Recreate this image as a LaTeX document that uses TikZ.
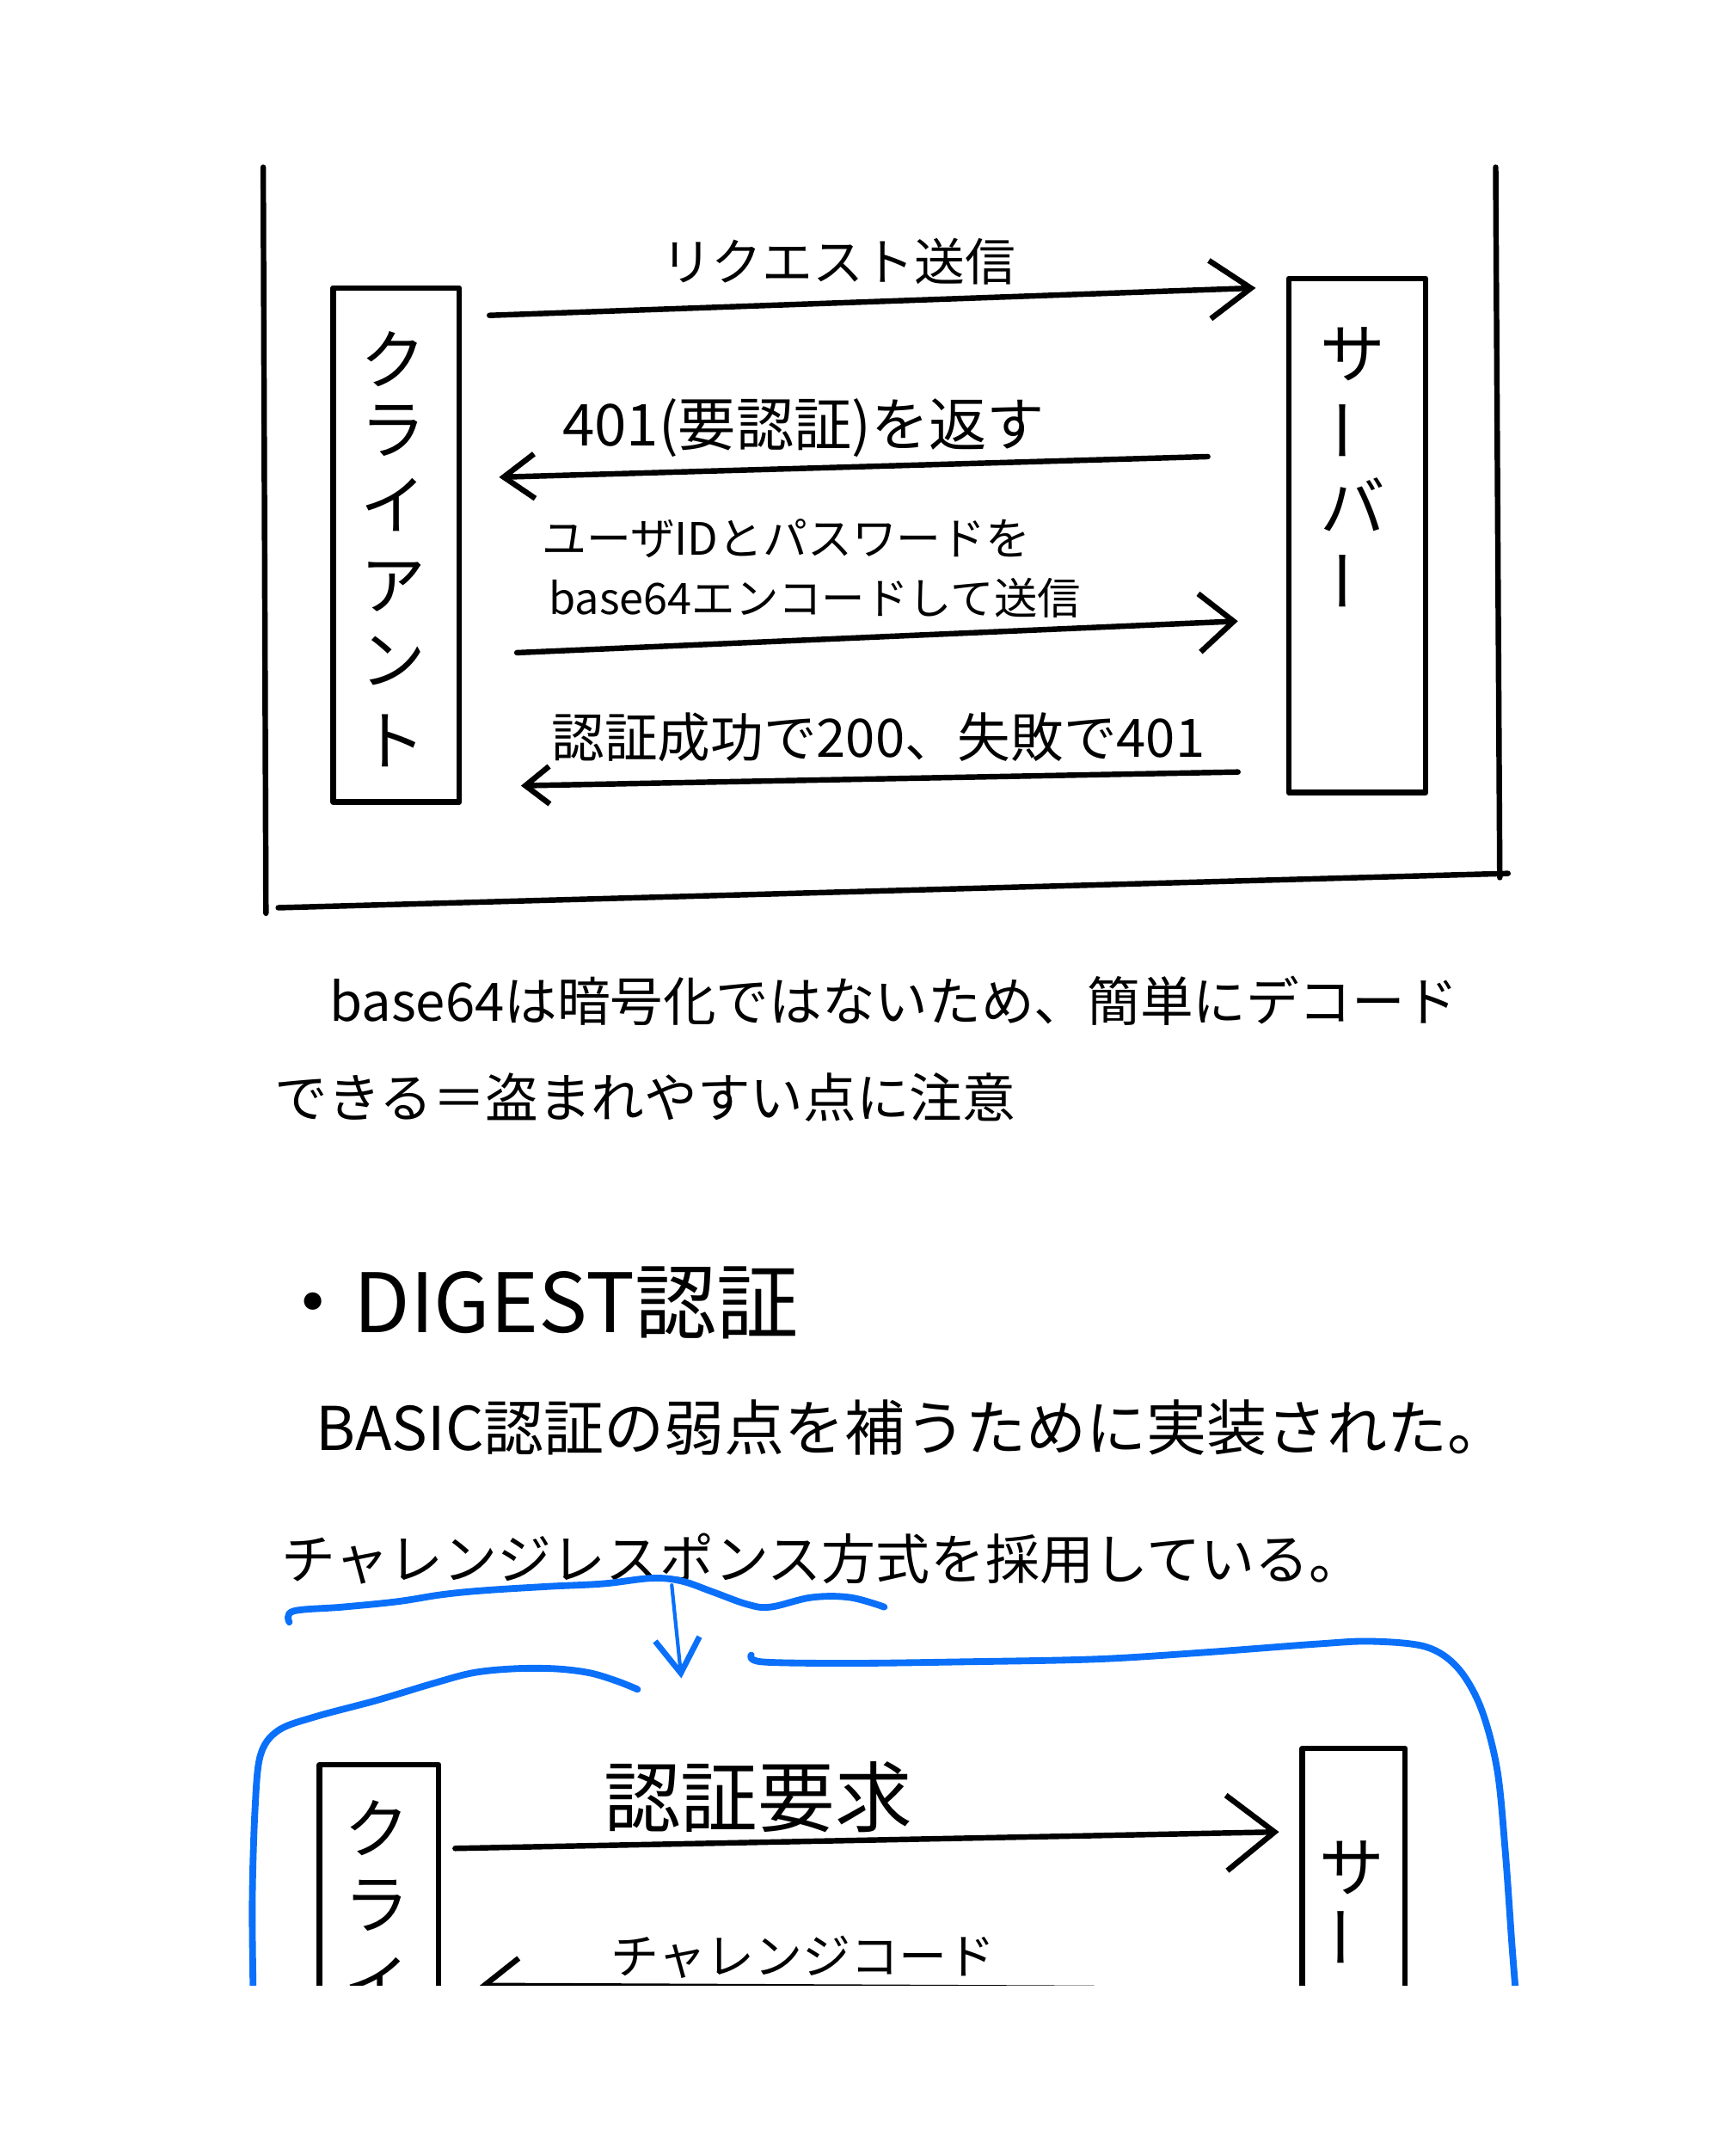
\documentclass[tikz,border=0pt]{standalone}
\usepackage{fontspec}
\setmainfont{Noto Sans CJK JP}
\usetikzlibrary{arrows.meta,calc}
\definecolor{inkblue}{RGB}{10,112,250}
\tikzset{
  ink/.style={draw=black, line width=2.3pt, line cap=round, line join=round},
  blueink/.style={draw=inkblue, line width=2.8pt, line cap=round, line join=round},
  box/.style={ink, inner sep=0pt, fill=none},
  lbl/.style={inner sep=0pt, anchor=base west},
  vchar/.style={inner sep=0pt, font=\fontsize{27}{30}\selectfont},
  para/.style={inner sep=0pt, anchor=base west},
}
\begin{document}
\begin{tikzpicture}[x=0.02cm,y=-0.02cm]
\useasboundingbox (0,0) rectangle (1266,1568);
\fill[white] (0,0) rectangle (1266,1568);

% ---------- top frame (open at the top) ----------
\draw[ink] (192,122) -- (194,666);
\draw[ink] (1091,122) -- (1094,640);
\draw[ink] (203,662) -- (1100,637);

% ---------- boxes ----------
\node[box, minimum width=1.84cm, minimum height=7.5cm] (client) at (289,397.5) {};
\node[box, minimum width=2cm, minimum height=7.5cm] (server) at (990,390.5) {};

% vertical labels
\node[vchar] (cl1) at (287,262) {ク};
\node[vchar] (cl2) at (287,314) {ラ};
\node[vchar] (cl3) at (287,368) {イ};
\node[vchar] (cl4) at (287,428) {ア};
\node[vchar] (cl5) at (287,482) {ン};
\node[vchar] (cl6) at (287,540) {ト};
\node[vchar] (sv1) at (987,258) {サ};
\node[vchar, rotate=90] (sv2) at (987,314) {ー};
\node[vchar] (sv3) at (987,368) {バ};
\node[vchar, rotate=90] (sv4) at (987,424) {ー};

% ---------- arrows ----------
\draw[ink, -{Straight Barb[length=0.6cm,width=0.85cm]}]
  ($(client.north east)+(20,22)$) -- ($(server.north west)+(-22,9)$);
\node[lbl, font=\fontsize{21}{24}\selectfont] (t1) at (482,205) {リクエスト送信};

\draw[ink, -{Straight Barb[length=0.45cm,width=0.65cm]}]
  ($(server.north west)+(-57,132)$) -- ($(client.north east)+(27,140)$);
\node[lbl, font=\fontsize{24}{28}\selectfont] (t2) at (410,325) {401(要認証)を返す};

\draw[ink, -{Straight Barb[length=0.5cm,width=0.85cm]}]
  ($(client.north east)+(40,268)$) -- ($(server.north west)+(-35,252)$);
\node[lbl, font=\fontsize{18.5}{22}\selectfont] (t3a) at (395,405) {ユーザIDとパスワードを};
\node[lbl, font=\fontsize{18}{22}\selectfont] (t3b) at (400,448) {base64エンコードして送信};

\draw[ink, -{Straight Barb[length=0.35cm,width=0.55cm]}]
  ($(server.north west)+(-35,362)$) -- ($(client.north east)+(43,365)$);
\node[lbl, font=\fontsize{22}{26}\selectfont] (t4) at (402,552) {認証成功で200、失敗で401};

% ---------- paragraph ----------
\node[para, font=\fontsize{22}{26}\selectfont] (p1) at (240,745) {base64は暗号化ではないため、簡単にデコード};
\node[para, font=\fontsize{22}{26}\selectfont] (p2) at (200,815) {できる＝盗まれやすい点に注意};

\node[para, font=\fontsize{34}{40}\selectfont] (h1) at (198,972) {・DIGEST認証};
\node[para, font=\fontsize{25}{30}\selectfont] (p3) at (230,1058) {BASIC認証の弱点を補うために実装された。};
\node[para, font=\fontsize{22.5}{27}\selectfont] (cr) at (205,1152) {チャレンジレスポンス方式};
\node[para, font=\fontsize{22.5}{27}\selectfont] (p4) at (cr.base east) {を採用している。};

% blue underline
\draw[blueink] plot[smooth, tension=0.6] coordinates {(211,1183) (214,1175) (250,1172) (290,1168) (322,1163) (352,1160) (400,1157) (440,1155) (475,1151) (497,1153) (520,1161) (545,1170) (562,1172) (592,1165) (620,1165) (645,1172)};

% blue arrow
\coordinate (ul) at (490,1156);
\coordinate (bt) at (497,1224);
\draw[draw=inkblue, line width=1.5pt, line cap=round, -{Straight Barb[length=0.5cm,width=0.65cm,line width=2.4pt]}] (ul) -- (bt);

% ---------- lower part (cut off by the page edge) ----------
\begin{scope}
\clip (0,0) rectangle (1266,1448);
% blue frame
\draw[blueink] plot[smooth, tension=0.55] coordinates {(465,1232) (450,1226) (430,1220) (405,1217) (375,1217) (345,1220) (315,1228) (275,1240) (230,1252) (203,1262) (190,1280) (186,1320) (184,1390) (185,1470)};
\draw[blueink] plot[smooth, tension=0.55] coordinates {(548,1207) (556,1212) (620,1213) (700,1212) (800,1210) (880,1205) (960,1199) (1000,1197) (1040,1201) (1063,1216) (1080,1245) (1092,1290) (1098,1350) (1103,1420) (1107,1470)};

\node[box, minimum width=1.74cm, minimum height=8.26cm] (client2) at (276.5,1493.5) {};
\node[box, minimum width=1.5cm, minimum height=8.5cm] (server2) at (987.5,1487.5) {};

\node[vchar] (cm1) at (275,1333) {ク};
\node[vchar] (cm2) at (275,1390) {ラ};
\node[vchar] (cm3) at (275,1447) {イ};
\node[vchar] (sm1) at (986,1362) {サ};
\node[vchar, rotate=90] (sm2) at (986,1413) {ー};
\node[vchar] (sm3) at (986,1468) {バ};

\draw[ink, -{Straight Barb[length=0.7cm,width=1.1cm]}]
  ($(client2.north east)+(10,63)$) -- ($(server2.north west)+(-15,63)$);
\node[lbl, font=\fontsize{32}{36}\selectfont] (t5) at (440,1332) {認証要求};

\draw[ink, -{Straight Barb[length=0.5cm,width=0.8cm]}]
  ($(server2.north west)+(-150,177)$) -- ($(client2.north east)+(28,163)$);
\node[lbl, font=\fontsize{20}{24}\selectfont] (t6) at (445,1440) {チャレンジコード};
\end{scope}
\end{tikzpicture}
\end{document}
